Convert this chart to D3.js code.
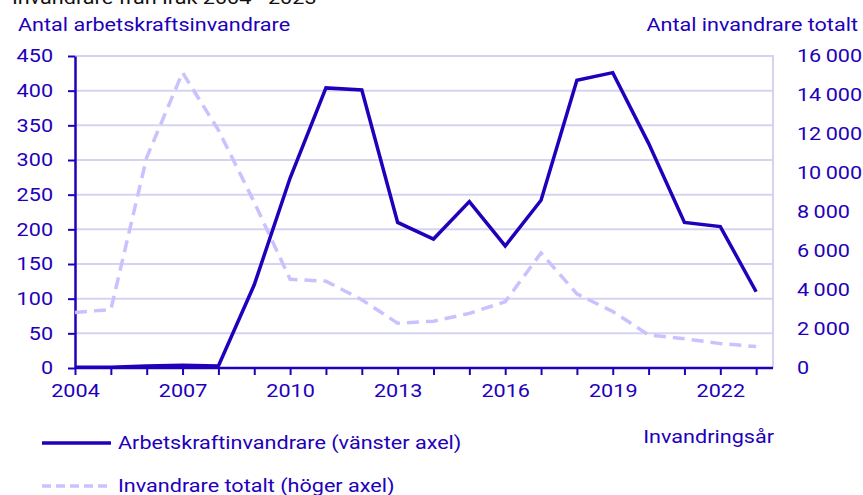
<!DOCTYPE html>
<html>
<head>
<meta charset="utf-8">
<script src="https://cdn.jsdelivr.net/npm/d3@7"></script>
<style>
  body { margin: 0; background: #fff; }
  svg { display: block; font-family: Roboto, "Noto Sans", sans-serif; }
</style>
</head>
<body>
<div id="wrapper"></div>
<script>
const width = 863,
    height = 495,
    SX = 1.2,          // the reference text is a little wider than plain Roboto
    FS = 18;

const DARK = "#2200bb",
    LIGHT = "#c9c2ff",
    GRID = "#d4d4f2";

// data
const years = d3.range(2004, 2024);
const arbetskraft = [1, 1, 3, 4, 3, 120, 274, 404, 401, 210, 186, 240, 176, 242, 415, 426, 324, 210, 204, 110];
const totalt = [2850, 3000, 10800, 15150, 12200, 8500, 4550, 4450, 3500, 2300, 2400, 2800, 3400, 5900, 3800, 2900, 1700, 1500, 1250, 1100];
const leftTicks = d3.range(0, 451, 50);
const rightTicks = d3.range(0, 16001, 2000);
const xLabels = [2004, 2007, 2010, 2013, 2016, 2019, 2022];

const fmt = v => d3.format(",")(v).replace(/,/g, "\u2009");

// stretch a text horizontally around its own anchor
function stretch(sel) {
    sel.each(function () {
        const t = d3.select(this);
        const x0 = +t.attr('x') || 0;
        t.attr('x', x0 / SX).attr('transform', `scale(${SX},1)`);
    });
}

function addText(x0, y0, txt, anchor, color) {
    const g = svg.append('g').attr('transform', `translate(${x0},${y0})`);
    g.append('text')
        .attr('text-anchor', anchor || 'start')
        .attr('font-size', FS)
        .attr('fill', color || DARK)
        .attr('transform', `scale(${SX},1)`)
        .text(txt);
}

const svg = d3.select('#wrapper')
    .append('svg')
    .attr('width', width)
    .attr('height', height);

const xEnd = 2023.47;
const x = d3.scaleLinear().domain([2004, xEnd]).range([75, 773]);
const yL = d3.scaleLinear().domain([0, 450]).range([368, 56]);
const yR = d3.scaleLinear().domain([0, 16000]).range([368, 56]);

// title (cut off at top)
addText(12, 4, 'Invandrare från Irak 2004 - 2023', 'start', '#111');

// gridlines
svg.append('g')
    .selectAll('line')
    .data(leftTicks.filter(d => d > 0))
    .enter()
    .append('line')
    .attr('x1', x(2004)).attr('x2', x(xEnd))
    .attr('y1', d => yL(d)).attr('y2', d => yL(d))
    .attr('stroke', GRID).attr('stroke-width', 2);

// right border
svg.append('line')
    .attr('x1', x(xEnd)).attr('x2', x(xEnd))
    .attr('y1', yL(450) - 1).attr('y2', yL(0))
    .attr('stroke', GRID).attr('stroke-width', 2);

// left axis
const leftAxis = svg.append('g')
    .attr('transform', `translate(${x(2004)},0)`)
    .call(d3.axisLeft(yL).tickValues(leftTicks).tickSize(7).tickPadding(15).tickSizeOuter(0));

// right axis
const rightAxis = svg.append('g')
    .attr('transform', `translate(${x(xEnd)},0)`)
    .call(d3.axisRight(yR).tickValues(rightTicks).tickFormat(fmt).tickSize(0).tickPadding(24));
rightAxis.select('.domain').remove();

// x axis
const xAxis = svg.append('g')
    .attr('transform', `translate(0,${yL(0)})`)
    .call(d3.axisBottom(x).tickValues(years).tickSize(7).tickPadding(9).tickSizeOuter(0)
        .tickFormat(d => xLabels.includes(d) ? d : ''));
xAxis.select('.domain').attr('d', `M${x(2004)},0H${x(xEnd)}`);

[leftAxis, rightAxis, xAxis].forEach(g => {
    g.selectAll('text').attr('font-size', FS).attr('fill', DARK).attr('font-family', 'Roboto').call(stretch);
    g.selectAll('line').attr('stroke', DARK).attr('stroke-width', 2);
    g.selectAll('.domain').attr('stroke', DARK).attr('stroke-width', 2.5);
});

// axis titles
addText(18, 31, 'Antal arbetskraftsinvandrare', 'start');
addText(858, 31, 'Antal invandrare totalt', 'end');

// lines
const lineTot = d3.line().x((d, i) => x(years[i])).y(d => yR(d));
const lineArb = d3.line().x((d, i) => x(years[i])).y(d => yL(d));

svg.append('path')
    .datum(totalt)
    .attr('d', lineTot)
    .attr('fill', 'none')
    .attr('stroke', LIGHT)
    .attr('stroke-width', 3.5)
    .attr('stroke-dasharray', '12,7');

svg.append('path')
    .datum(arbetskraft)
    .attr('d', lineArb)
    .attr('fill', 'none')
    .attr('stroke', DARK)
    .attr('stroke-width', 3.5)
    .attr('stroke-linejoin', 'miter');

// legend
const legendLabels = ['Arbetskraftinvandrare (vänster axel)', 'Invandrare totalt (höger axel)'];
const legendColors = [DARK, LIGHT];
const legendDash = [null, '9,5'];
const legendY = [443, 486];
legendLabels.forEach((label, i) => {
    svg.append('line')
        .attr('x1', 42).attr('x2', 111)
        .attr('y1', legendY[i]).attr('y2', legendY[i])
        .attr('stroke', legendColors[i]).attr('stroke-width', 3.5)
        .attr('stroke-dasharray', legendDash[i]);
    addText(118, legendY[i] + 6, label, 'start');
});

addText(774, 443, 'Invandringsår', 'end');
</script>
</body>
</html>
